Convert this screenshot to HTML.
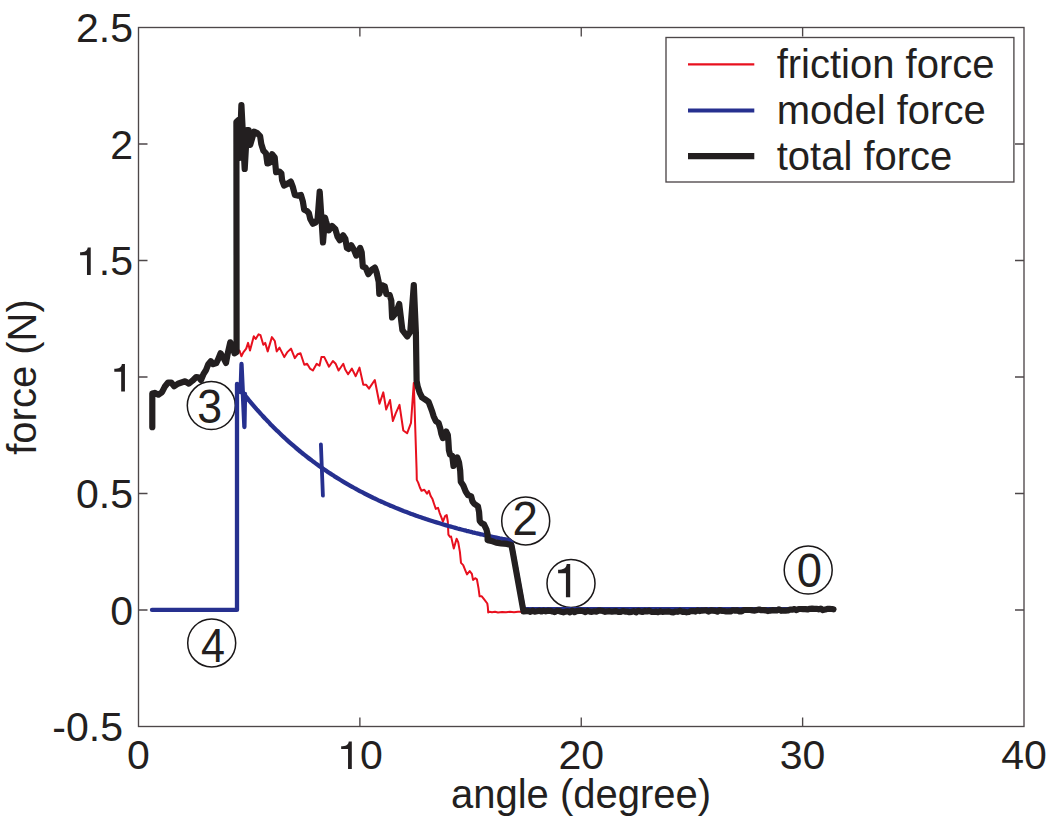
<!DOCTYPE html>
<html><head><meta charset="utf-8"><style>
html,body{margin:0;padding:0;background:#fff;}
svg{display:block;}
text{font-family:"Liberation Sans",sans-serif;fill:#231f20;}
</style></head><body>
<svg width="1050" height="821" viewBox="0 0 1050 821">
<rect x="138.5" y="27.5" width="885.5" height="699.0" fill="#fff" stroke="#4d4749" stroke-width="1.35"/>
<path d="M359.88,726.5V717.50M359.88,27.5V36.50M581.25,726.5V717.50M581.25,27.5V36.50M802.62,726.5V717.50M802.62,27.5V36.50M138.5,144.00H147.50M1024,144.00H1015.00M138.5,260.50H147.50M1024,260.50H1015.00M138.5,377.00H147.50M1024,377.00H1015.00M138.5,493.50H147.50M1024,493.50H1015.00M138.5,610.00H147.50M1024,610.00H1015.00" stroke="#4d4749" stroke-width="1.35" fill="none"/>
<text x="76.00" y="42.10" font-size="41">2.5</text>
<text x="110.20" y="158.60" font-size="41">2</text>
<path transform="translate(76.30,275.10) scale(0.0400,-0.0400)" d="M361,0L361,690L285,690C278,645 262,614 228,596C194,580 145,572 95,570L95,498L267,498L267,0Z" fill="#231f20"/>
<text x="98.81" y="275.10" font-size="41">.5</text>
<path transform="translate(110.50,391.60) scale(0.0400,-0.0400)" d="M361,0L361,690L285,690C278,645 262,614 228,596C194,580 145,572 95,570L95,498L267,498L267,0Z" fill="#231f20"/>
<text x="76.00" y="508.10" font-size="41">0.5</text>
<text x="110.20" y="624.60" font-size="41">0</text>
<text x="52.35" y="741.10" font-size="41">-0.5</text>
<text x="127.10" y="769.00" font-size="41">0</text>
<path transform="translate(337.37,769.00) scale(0.0400,-0.0400)" d="M361,0L361,690L285,690C278,645 262,614 228,596C194,580 145,572 95,570L95,498L267,498L267,0Z" fill="#231f20"/>
<text x="359.88" y="769.00" font-size="41">0</text>
<text x="558.45" y="769.00" font-size="41">20</text>
<text x="779.82" y="769.00" font-size="41">30</text>
<text x="1001.20" y="769.00" font-size="41">40</text>
<text x="581" y="808" font-size="40" text-anchor="middle">angle (degree)</text>
<text transform="translate(36,377) rotate(-90)" font-size="40" text-anchor="middle">force (N)</text>
<circle cx="211.3" cy="405.6" r="24" fill="#fff" stroke="#1a1718" stroke-width="1.5"/>
<circle cx="525.7" cy="520.9" r="24" fill="#fff" stroke="#1a1718" stroke-width="1.5"/>
<circle cx="571" cy="583.4" r="24" fill="#fff" stroke="#1a1718" stroke-width="1.5"/>
<circle cx="211.7" cy="642.9" r="24" fill="#fff" stroke="#1a1718" stroke-width="1.5"/>
<circle cx="808.2" cy="570" r="24" fill="#fff" stroke="#1a1718" stroke-width="1.5"/>
<text transform="translate(197.2,422.72) scale(0.918,1)" x="0" y="0" font-size="48.73">3</text>
<text transform="translate(512.6,535.4) scale(0.96,1)" x="0" y="0" font-size="47.55">2</text>
<text transform="translate(201.01,662.4) scale(0.895,1)" x="0" y="0" font-size="48.11">4</text>
<text transform="translate(796.73,586.84) scale(0.962,1)" x="0" y="0" font-size="47.17">0</text>
<g transform="translate(553.78,597.3) scale(0.942,1)"><path transform="translate(0.00,0.00) scale(0.0483,-0.0483)" d="M361,0L361,690L285,690C278,645 262,614 228,596C194,580 145,572 95,570L95,498L267,498L267,0Z" fill="#231f20"/></g>
<g fill="none" stroke-linejoin="round" stroke-linecap="round">
<path d="M237.5,352.0L239.5,350.5L241.4,356.2L243.3,352.4L246.2,348.6L248.1,342.9L250.0,350.5L253.8,336.2L255.7,339.0L258.6,334.3L260.5,335.2L263.3,344.8L265.2,342.9L267.7,351.4L271.9,337.1L274.8,341.0L276.7,351.4L279.5,347.6L284.3,357.1L287.1,352.4L291.0,348.6L294.8,358.1L297.6,354.3L300.5,353.3L304.3,364.8L307.1,363.8L310.0,368.6L312.9,370.5L316.7,363.8L319.5,365.7L321.4,357.1L324.3,357.1L326.2,361.0L329.0,366.7L332.9,361.0L335.7,363.8L338.6,370.5L343.3,363.8L345.2,369.5L348.1,374.3L351.9,368.6L355.7,376.2L359.5,367.6L363.3,384.8L366.2,384.8L369.0,388.6L374.8,380.0L379.5,403.8L383.3,392.4L386.2,409.5L390.0,400.0L392.9,421.0L395.7,413.3L399.5,404.8L403.3,430.5L407.1,433.3L411.0,422.9L413.8,382.9L416.6,470.0L416.8,479.9L418.2,482.6L419.9,487.5L421.5,490.8L424.3,489.7L427.0,493.6L428.9,490.8L430.8,496.3L432.5,499.1L434.1,504.0L435.8,508.9L438.0,507.8L439.6,512.8L441.3,517.1L442.9,521.5L445.1,516.1L446.7,515.0L447.8,521.5L448.4,534.7L450.0,536.9L451.1,536.6L453.8,548.6L456.6,538.8L458.2,542.1L459.9,551.9L461.0,562.9L463.2,565.1L465.4,570.6L467.0,574.4L469.7,571.1L471.9,573.9L473.0,579.9L475.2,578.2L476.9,579.3L478.5,588.1L479.6,596.3L481.8,596.3L484.0,599.1L487.3,603.5L487.8,606.8L488.2,612.5L489.5,611.7L492.0,612.3L495.0,611.8L498.0,612.4L502.0,611.9L506.0,612.3L510.0,611.8L514.0,612.2L518.0,611.8L522.2,611.8" stroke="#e8101e" stroke-width="2"/>
<path d="M152.0,609.9L237.0,609.9L237.0,384.0L240.6,392.0L241.5,364.0L244.4,427.0L245.0,394.0L244.3,395.7M244.5,394.8C245.0,395.5 246.5,397.3 247.5,398.5C248.5,399.7 249.5,400.9 250.5,402.1C251.5,403.3 252.5,404.5 253.5,405.6C254.5,406.8 255.5,407.9 256.5,409.1C257.5,410.2 258.5,411.3 259.5,412.4C260.5,413.6 261.5,414.6 262.5,415.7C263.5,416.8 264.5,417.9 265.5,418.9C266.5,420.0 267.5,421.1 268.5,422.1C269.5,423.1 270.5,424.2 271.5,425.2C272.5,426.2 273.5,427.2 274.5,428.2C275.5,429.2 276.5,430.2 277.5,431.1C278.5,432.1 279.5,433.1 280.5,434.0C281.5,435.0 282.5,435.9 283.5,436.8C284.5,437.7 285.5,438.7 286.5,439.6C287.5,440.5 288.5,441.4 289.5,442.3C290.5,443.2 291.5,444.0 292.5,444.9C293.5,445.8 294.5,446.6 295.5,447.5C296.5,448.3 297.5,449.2 298.5,450.0C299.5,450.8 300.5,451.6 301.5,452.5C302.5,453.3 303.5,454.1 304.5,454.9C305.5,455.7 306.5,456.5 307.5,457.2C308.5,458.0 309.5,458.8 310.5,459.5C311.5,460.3 312.5,461.0 313.5,461.8C314.5,462.5 315.5,463.3 316.5,464.0C317.5,464.7 318.5,465.4 319.5,466.2C320.5,466.9 321.5,467.6 322.5,468.3C323.5,469.0 324.5,469.7 325.5,470.3C326.5,471.0 327.5,471.7 328.5,472.4C329.5,473.0 330.5,473.7 331.5,474.3C332.5,475.0 333.5,475.6 334.5,476.3C335.5,476.9 336.5,477.5 337.5,478.2C338.5,478.8 339.5,479.4 340.5,480.0C341.5,480.6 342.5,481.2 343.5,481.8C344.5,482.4 345.5,483.0 346.5,483.6C347.5,484.2 348.5,484.8 349.5,485.3C350.5,485.9 351.5,486.5 352.5,487.0C353.5,487.6 354.5,488.2 355.5,488.7C356.5,489.3 357.5,489.8 358.5,490.3C359.5,490.9 360.5,491.4 361.5,491.9C362.5,492.4 363.5,493.0 364.5,493.5C365.5,494.0 366.5,494.5 367.5,495.0C368.5,495.5 369.5,496.0 370.5,496.5C371.5,497.0 372.5,497.5 373.5,498.0C374.5,498.4 375.5,498.9 376.5,499.4C377.5,499.9 378.5,500.3 379.5,500.8C380.5,501.2 381.5,501.7 382.5,502.1C383.5,502.6 384.5,503.0 385.5,503.5C386.5,503.9 387.5,504.4 388.5,504.8C389.5,505.2 390.5,505.7 391.5,506.1C392.5,506.5 393.5,506.9 394.5,507.3C395.5,507.8 396.5,508.2 397.5,508.6C398.5,509.0 399.5,509.4 400.5,509.8C401.5,510.2 402.5,510.6 403.5,511.0C404.5,511.3 405.5,511.7 406.5,512.1C407.5,512.5 408.5,512.9 409.5,513.2C410.5,513.6 411.5,514.0 412.5,514.3C413.5,514.7 414.5,515.1 415.5,515.4C416.5,515.8 417.5,516.1 418.5,516.5C419.5,516.8 420.5,517.2 421.5,517.5C422.5,517.9 423.5,518.2 424.5,518.5C425.5,518.9 426.5,519.2 427.5,519.5C428.5,519.9 429.5,520.2 430.5,520.5C431.5,520.8 432.5,521.2 433.5,521.5C434.5,521.8 435.5,522.1 436.5,522.4C437.5,522.7 438.5,523.0 439.5,523.3C440.5,523.6 441.5,523.9 442.5,524.2C443.5,524.5 444.5,524.8 445.5,525.1C446.5,525.4 447.5,525.7 448.5,526.0C449.5,526.3 450.5,526.5 451.5,526.8C452.5,527.1 453.5,527.4 454.5,527.6C455.5,527.9 456.5,528.2 457.5,528.5C458.5,528.7 459.5,529.0 460.5,529.2C461.5,529.5 462.5,529.8 463.5,530.0C464.5,530.3 465.5,530.5 466.5,530.8C467.5,531.0 468.5,531.3 469.5,531.5C470.5,531.8 471.5,532.0 472.5,532.3C473.5,532.5 474.5,532.8 475.5,533.0C476.5,533.2 477.5,533.5 478.5,533.7C479.5,533.9 480.5,534.2 481.5,534.4C482.5,534.6 483.5,534.8 484.5,535.1C485.5,535.3 486.5,535.5 487.5,535.7C488.5,535.9 489.5,536.2 490.5,536.4C491.5,536.6 492.5,536.8 493.5,537.0C494.5,537.2 495.5,537.4 496.5,537.6C497.5,537.8 498.5,538.0 499.5,538.3C500.5,538.5 501.5,538.7 502.5,538.9C503.5,539.0 504.5,539.2 505.5,539.4C506.5,539.6 508.0,539.9 508.5,540.0M508.5,540.0L511.5,542.5L513.0,551.0L523.6,609.2L833.0,609.2" stroke="#26308f" stroke-width="4.3"/>
<path d="M320.9,444.3L322.9,495.7" stroke="#26308f" stroke-width="3.8"/>
<path d="M152.3,427.2L152.3,393.5L154.7,392.9L158.4,394.7L162.0,392.2L165.1,386.2L168.1,382.5L171.2,382.5L174.2,386.2L177.9,383.7L181.5,382.5L185.2,381.3L188.8,383.7L192.5,380.7L196.2,377.0L199.2,377.6L201.0,380.1L203.5,374.0L205.9,370.3L208.3,364.2L210.8,361.2L213.2,364.2L216.3,363.0L218.1,359.4L220.5,353.3L223.6,358.1L226.0,363.0L227.8,353.3L230.3,342.3L232.7,347.2L234.5,353.3L236.6,352.1L236.4,122.0L238.5,120.0L239.5,158.0L241.4,105.0L244.7,169.0L246.9,130.1L248.6,130.1L250.2,144.9L254.1,131.7L256.8,132.8L260.1,136.1L261.3,144.0L263.4,150.7L266.0,153.4L267.4,163.5L269.4,162.8L272.1,154.1L274.7,157.4L276.1,172.2L279.4,171.5L281.4,173.5L282.1,180.2L284.1,185.6L286.8,184.2L290.8,181.6L292.8,186.9L294.9,195.0L297.5,195.6L300.9,195.0L302.9,201.7L304.2,209.7L306.9,211.0L308.9,213.1L310.3,219.1L312.9,223.8L315.6,222.4L317.6,219.1L319.7,191.6L323.0,242.5L325.0,217.7L326.1,221.6L328.8,230.4L332.1,226.0L335.4,229.3L337.6,236.9L339.8,240.2L343.1,235.3L345.3,238.6L346.9,247.9L348.6,249.0L351.3,245.2L354.1,250.1L356.3,255.6L360.1,247.9L361.7,252.3L362.8,266.5L365.6,267.6L368.3,274.2L371.6,269.8L374.9,267.6L376.5,272.0L378.7,281.9L379.3,293.9L382.0,285.2L384.8,286.3L386.4,294.0L389.7,295.0L391.3,300.5L392.1,317.5L396.1,312.7L399.2,304.0L402.4,330.1L407.2,336.5L410.3,331.7L413.8,285.0L415.9,333.0L416.6,380.8L417.7,386.6L419.9,393.2L422.1,397.5L425.4,399.7L428.6,401.9L430.3,406.3L431.9,410.7L433.6,416.2L435.8,421.1L438.5,422.8L440.2,428.2L441.3,433.7L442.9,438.1L446.2,431.5L447.8,434.8L448.4,441.4L448.9,450.2L450.0,454.6L452.2,455.7L453.5,466.0L457.2,457.4L459.0,462.3L460.2,470.8L460.8,481.8L463.3,485.5L465.7,491.5L468.1,495.2L471.2,496.4L472.4,501.3L474.2,503.7L477.9,506.2L479.1,512.2L479.7,520.8L481.5,523.2L484.0,524.4L486.4,529.3L487.6,534.2L487.6,540.3L491.3,540.9L496.2,542.7L501.0,543.3L507.1,543.9L511.4,545.1L512.6,551.2L523.5,611.5L526.0,611.2L528.2,610.9L530.4,611.8L532.6,610.7L534.8,611.6L537.0,611.3L539.2,610.7L541.4,611.5L543.6,610.7L545.8,611.4L548.0,610.7L550.2,610.8L552.4,611.4L554.6,612.1L556.8,610.8L559.0,611.0L561.2,611.7L563.4,612.3L565.6,611.6L567.8,611.3L570.0,612.4L572.2,610.7L574.4,612.1L576.6,611.1L578.8,610.9L581.0,610.8L583.2,611.2L585.4,612.1L587.6,610.9L589.8,611.6L592.0,611.8L594.2,611.3L596.4,611.6L598.6,610.7L600.8,610.7L603.0,611.0L605.2,611.8L607.4,611.4L609.6,611.2L611.8,611.7L614.0,611.4L616.2,611.1L618.4,612.0L620.6,611.9L622.8,611.0L625.0,611.6L627.2,611.5L629.4,612.2L631.6,611.9L633.8,611.1L636.0,612.4L638.2,610.8L640.4,611.4L642.6,612.0L644.8,610.9L647.0,611.5L649.2,610.7L651.4,611.8L653.6,612.0L655.8,611.6L658.0,612.2L660.2,611.2L662.4,611.9L664.6,611.7L666.8,611.6L669.0,611.4L671.2,612.1L673.4,612.3L675.6,611.5L677.8,611.8L680.0,610.7L682.2,611.8L684.4,611.7L686.6,612.3L688.8,612.0L691.0,611.0L693.2,611.1L695.4,611.6L697.6,610.4L699.8,611.1L702.0,610.6L704.2,610.5L706.4,610.3L708.6,611.6L710.8,610.4L713.0,610.6L715.2,610.8L717.4,611.6L719.6,610.2L721.8,610.8L724.0,611.0L726.2,611.5L728.4,611.4L730.6,611.4L732.8,610.3L735.0,610.6L737.2,610.4L739.4,611.3L741.6,611.4L743.8,610.0L746.0,610.0L748.2,610.0L750.4,610.0L752.6,610.4L754.8,610.6L757.0,610.0L759.2,609.5L761.4,610.2L763.6,610.1L765.8,610.4L768.0,611.1L770.2,610.6L772.4,610.2L774.6,610.4L776.8,610.4L779.0,609.3L781.2,610.8L783.4,610.5L785.6,610.7L787.8,610.5L790.0,609.7L792.2,609.7L794.4,609.1L796.6,610.1L798.8,609.0L801.0,609.0L803.2,609.2L805.4,609.1L807.6,609.4L809.8,608.8L812.0,608.7L814.2,608.9L816.4,608.8L818.6,609.3L820.8,608.6L823.0,610.1L825.2,609.6L827.4,608.8L829.6,608.9L831.8,609.0L833.5,609.3" stroke="#231f20" stroke-width="6.2"/>
</g>
<rect x="666" y="37.5" width="347.9" height="144.5" fill="#fff" stroke="#4d4749" stroke-width="1.35"/>
<path d="M688,64.4H754.3" stroke="#e8101e" stroke-width="2.2"/>
<path d="M688,110.5H754.3" stroke="#26308f" stroke-width="4.2"/>
<path d="M688,156.2H754.3" stroke="#231f20" stroke-width="6.3"/>
<g font-size="40">
<text x="776.7" y="78">friction force</text>
<text x="776.7" y="124.4">model force</text>
<text x="776.7" y="169.8">total force</text>
</g>
</svg>
</body></html>
